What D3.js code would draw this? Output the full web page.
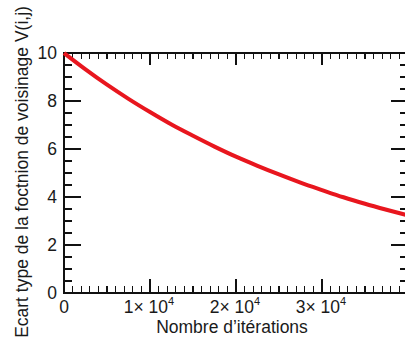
<!DOCTYPE html>
<html><head><meta charset="utf-8">
<script src="https://cdn.jsdelivr.net/npm/d3@7"></script>
<style>body{margin:0;background:#fff}svg{display:block}text{font-family:"Liberation Sans",Arial,sans-serif;fill:#1a1a1a}</style>
</head><body>
<script>
const iterations = [0,2500,5000,7500,10000,12500,15000,17500,20000,22500,25000,27500,30000,32500,35000,37500,40000];
const ecartType = [10,9.32,8.68,8.09,7.54,7.02,6.55,6.10,5.68,5.30,4.94,4.60,4.29,3.99,3.72,3.47,3.23];
const xTicks = [0,10000,20000,30000];
const xTickLabels = ["0","1× 10|4","2× 10|4","3× 10|4"];
const yTicks = [0,2,4,6,8,10];
const xTitle = "Nombre d’itérations";
const yTitle = "Ecart type de la foctnion de voisinage V(i,j)";

const W=405,H=346,FS=17.5;
const svg=d3.select("body").append("svg").attr("width",W).attr("height",H);
const x=d3.scaleLinear().domain([0,40000]).range([64,408]);
const y=d3.scaleLinear().domain([0,10]).range([293,53]);
const X0=x.range()[0],X1=x.range()[1],Y0=y.range()[0],Y1=y.range()[1];
const g=svg.append("g");
const ax=g.append("g").attr("stroke","#111").attr("stroke-width",1.2).attr("shape-rendering","crispEdges");
ax.append("rect").attr("x",X0).attr("y",Y1).attr("width",X1-X0).attr("height",Y0-Y1).attr("fill","none");
const xMinor=d3.range(0,40001,1000);
xMinor.forEach(v=>{
  const major=v%10000===0;
  ax.append("line").attr("x1",x(v)).attr("x2",x(v)).attr("y1",Y0).attr("y2",Y0-(major?14:7));
  ax.append("line").attr("x1",x(v)).attr("x2",x(v)).attr("y1",Y1).attr("y2",Y1+(major?12:6));
});
const yMinor=d3.range(0,10.01,0.5);
yMinor.forEach(v=>{
  const major=Math.abs(v%2)<1e-9;
  const L=major?17:8;
  ax.append("line").attr("y1",y(v)).attr("y2",y(v)).attr("x1",X0).attr("x2",X0+L);
  ax.append("line").attr("y1",y(v)).attr("y2",y(v)).attr("x1",X1).attr("x2",X1-L);
});
yTicks.forEach(v=>{
  g.append("text").attr("x",57).attr("y",y(v)+6.3).attr("text-anchor","end").attr("font-size",FS).text(v);
});
xTicks.forEach((v,i)=>{
  const parts=xTickLabels[i].split("|");
  const t=g.append("text").attr("x",x(v)-(parts.length>1?1:0)).attr("y",313).attr("text-anchor","middle").attr("font-size",FS);
  t.append("tspan").text(parts[0]);
  if(parts.length>1) t.append("tspan").attr("dy",-8).attr("font-size",11).text(parts[1]);
});
g.append("text").attr("x",232).attr("y",333).attr("text-anchor","middle").attr("font-size",FS).text(xTitle);
g.append("text").attr("transform","translate(28,172) rotate(-90)").attr("text-anchor","middle").attr("font-size",FS).text(yTitle);
const line=d3.line().x((d,i)=>x(iterations[i])).y(d=>y(d)).curve(d3.curveMonotoneX);
g.append("path").datum(ecartType).attr("d",line).attr("fill","none").attr("stroke","#e8161e").attr("stroke-width",4);
</script>
</body></html>
